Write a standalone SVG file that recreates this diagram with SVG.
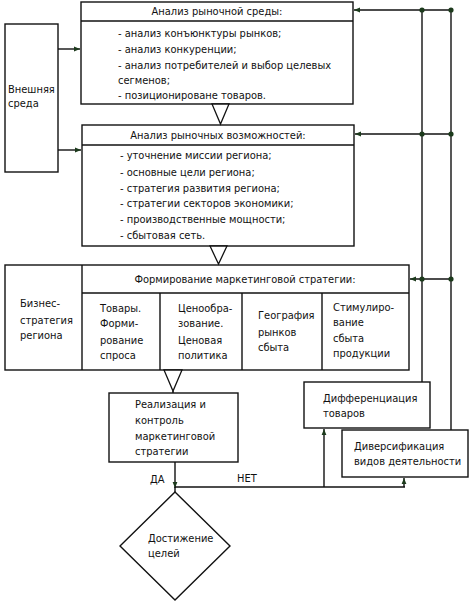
<svg xmlns="http://www.w3.org/2000/svg" width="470" height="602" viewBox="0 0 470 602">
<defs>
<style>
.b{fill:#fff;stroke:#111;stroke-width:1.4}
.l{fill:none;stroke:#111;stroke-width:1.4}
.t{font-family:"DejaVu Sans Condensed","Liberation Sans",sans-serif;font-stretch:condensed;font-size:11px;fill:#111}
.c{text-anchor:middle}
.d{fill:#1c3a1c}
.tri{fill:#fff;stroke:#111;stroke-width:1.3}
</style>
<marker id="ah" viewBox="0 0 10 10" refX="10" refY="5" markerWidth="6" markerHeight="6" orient="auto" markerUnits="userSpaceOnUse">
<path d="M0,1 L10,5 L0,9 Z" fill="#1c3a1c"/>
</marker>
</defs>
<rect width="470" height="602" fill="#fff"/>

<g id="vneshnyaya">
<rect class="b" x="5" y="24" width="53" height="148"/>
<text class="t" x="8" y="93">Внешняя</text>
<text class="t" x="8" y="107">среда</text>
</g>

<g id="analiz-sredy">
<rect class="b" x="81" y="2" width="272" height="102"/>
<line class="l" x1="81" y1="21" x2="353" y2="21"/>
<text class="t c" x="217" y="15">Анализ рыночной среды:</text>
<text class="t" x="118" y="37">- анализ конъюнктуры рынков;</text>
<text class="t" x="118" y="53">- анализ конкуренции;</text>
<text class="t" x="118" y="69">- анализ потребителей и выбор целевых</text>
<text class="t" x="118" y="84">сегменов;</text>
<text class="t" x="118" y="99">- позиционироване товаров.</text>
</g>

<g id="analiz-vozmozhnostey">
<rect class="b" x="82" y="125" width="272" height="121"/>
<line class="l" x1="82" y1="145" x2="354" y2="145"/>
<text class="t c" x="218" y="139">Анализ рыночных возможностей:</text>
<text class="t" x="120" y="159">- уточнение миссии региона;</text>
<text class="t" x="120" y="176">- основные цели региона;</text>
<text class="t" x="120" y="192">- стратегия развития региона;</text>
<text class="t" x="120" y="207">- стратегии секторов экономики;</text>
<text class="t" x="120" y="223">- производственные мощности;</text>
<text class="t" x="120" y="239">- сбытовая сеть.</text>
</g>

<g id="strategiya">
<rect class="b" x="5" y="265" width="404" height="105"/>
<line class="l" x1="82" y1="293" x2="409" y2="293"/>
<line class="l" x1="82" y1="265" x2="82" y2="370"/>
<line class="l" x1="160" y1="293" x2="160" y2="370"/>
<line class="l" x1="242" y1="293" x2="242" y2="370"/>
<line class="l" x1="322" y1="293" x2="322" y2="370"/>
<text class="t c" x="245" y="283">Формирование маркетинговой стратегии:</text>
<text class="t" x="20" y="307">Бизнес-</text>
<text class="t" x="20" y="324">стратегия</text>
<text class="t" x="20" y="339">региона</text>
<text class="t" x="100" y="312">Товары.</text>
<text class="t" x="100" y="327">Форми-</text>
<text class="t" x="100" y="344">рование</text>
<text class="t" x="100" y="359">спроса</text>
<text class="t" x="178" y="312">Ценообра-</text>
<text class="t" x="178" y="327">зование.</text>
<text class="t" x="178" y="344">Ценовая</text>
<text class="t" x="178" y="359">политика</text>
<text class="t" x="258" y="319">География</text>
<text class="t" x="258" y="336">рынков</text>
<text class="t" x="258" y="351">сбыта</text>
<text class="t" x="333" y="311">Стимулиро-</text>
<text class="t" x="333" y="326">вание</text>
<text class="t" x="333" y="342">сбыта</text>
<text class="t" x="333" y="357">продукции</text>
</g>

<g id="realizatsiya">
<rect class="b" x="109" y="393" width="129" height="69"/>
<text class="t" x="135" y="408">Реализация и</text>
<text class="t" x="135" y="424">контроль</text>
<text class="t" x="135" y="440">маркетинговой</text>
<text class="t" x="135" y="455">стратегии</text>
</g>

<g id="differentsiatsiya">
<rect class="b" x="304" y="382" width="126" height="46"/>
<text class="t" x="323" y="402">Дифференциация</text>
<text class="t" x="323" y="417">товаров</text>
</g>

<g id="diversifikatsiya">
<rect class="b" x="342" y="430" width="126" height="47"/>
<text class="t" x="354" y="450">Диверсификация</text>
<text class="t" x="354" y="465">видов деятельности</text>
</g>

<g id="dostizhenie">
<polygon class="b" points="175,492 230,546 175,600 120,546"/>
<text class="t" x="148" y="542">Достижение</text>
<text class="t" x="148" y="557">целей</text>
</g>

<g id="connectors">
<line class="l" x1="58" y1="49" x2="80" y2="49" marker-end="url(#ah)"/>
<line class="l" x1="58" y1="150" x2="81" y2="150" marker-end="url(#ah)"/>
<polygon class="tri" points="212,104 229,104 220.5,124"/>
<polygon class="tri" points="210,246 227,246 218.5,264"/>
<polygon class="tri" points="164,370 182,370 173,391"/>
<line class="l" x1="173" y1="391" x2="173" y2="393"/>
<line class="l" x1="422" y1="10" x2="422" y2="382"/>
<line class="l" x1="451" y1="10" x2="451" y2="430"/>
<line class="l" x1="451" y1="10" x2="354" y2="10" marker-end="url(#ah)"/>
<line class="l" x1="451" y1="134" x2="355" y2="134" marker-end="url(#ah)"/>
<line class="l" x1="451" y1="279" x2="410" y2="279" marker-end="url(#ah)"/>
<circle class="d" cx="422" cy="10" r="2.6"/>
<circle class="d" cx="451" cy="10" r="2.6"/>
<circle class="d" cx="422" cy="134" r="2.6"/>
<circle class="d" cx="451" cy="134" r="2.6"/>
<circle class="d" cx="422" cy="279" r="2.6"/>
<circle class="d" cx="451" cy="279" r="2.6"/>
<line class="l" x1="175" y1="462" x2="175" y2="488" marker-end="url(#ah)"/>
<line class="l" x1="175" y1="487" x2="175" y2="492"/>
<line class="l" x1="175" y1="487" x2="405" y2="487"/>
<line class="l" x1="324" y1="487" x2="324" y2="429" marker-end="url(#ah)"/>
<line class="l" x1="404" y1="487" x2="404" y2="478" marker-end="url(#ah)"/>
<text class="t" x="150" y="483">ДА</text>
<text class="t" x="237" y="482">НЕТ</text>
</g>
</svg>
